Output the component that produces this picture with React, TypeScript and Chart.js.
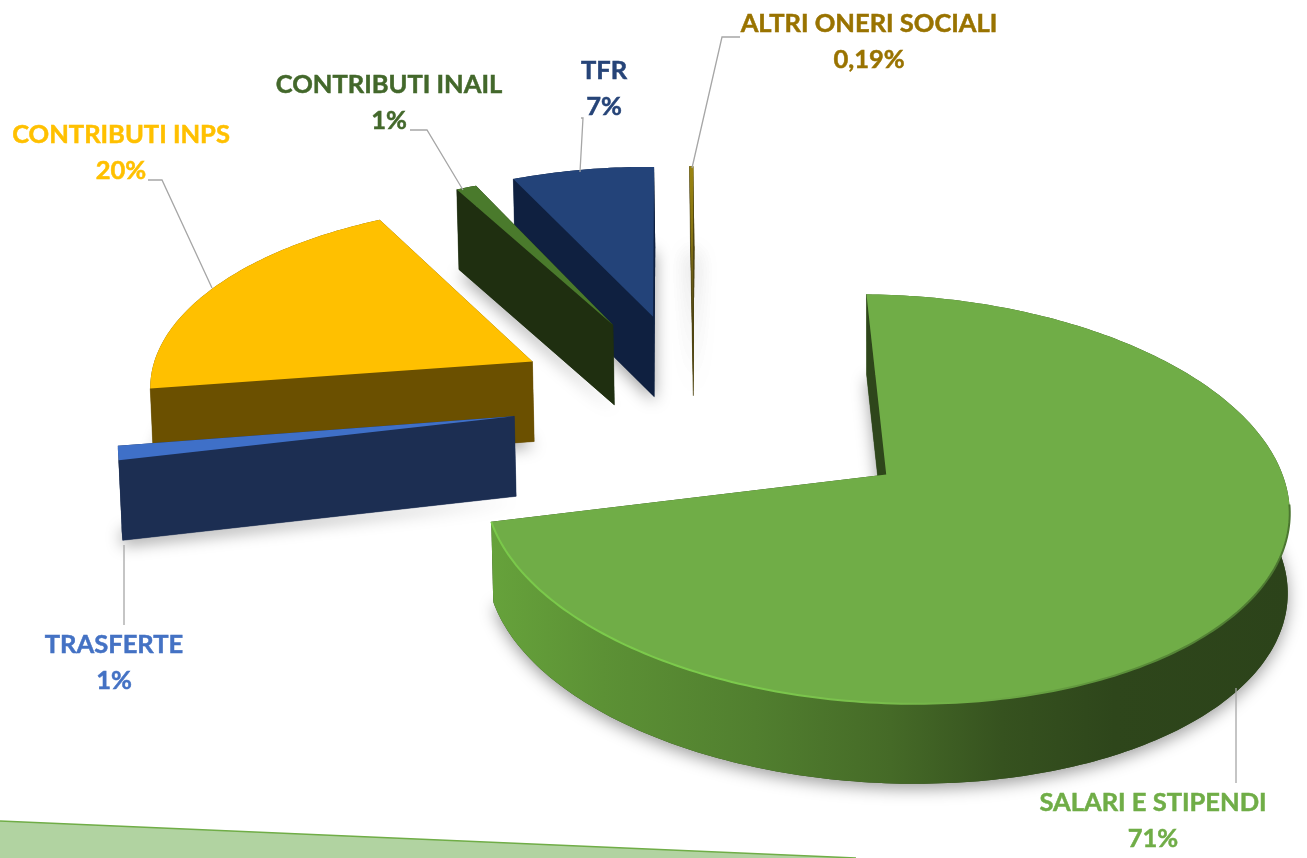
import React, { useEffect, useRef } from "react";
import { Chart, registerables } from "chart.js";

Chart.register(...registerables);

const categories = ["SALARI E STIPENDI", "TRASFERTE", "CONTRIBUTI INPS", "CONTRIBUTI INAIL", "TFR", "ALTRI ONERI SOCIALI"];
const shares = [71.4, 1.2, 19.6, 1, 7, 0.19];
const shareLabels = ["71%", "1%", "20%", "1%", "7%", "0,19%"];
const topColors = ["#70ad47", "#3f70c8", "#ffc000", "#4a7a2c", "#234379", "#9a8410"];
const labelColors = ["#70ad47", "#4472c4", "#ffc000", "#43682b", "#264478", "#997300"];
const wallColors = ["#2e461b", "#1c2e52", "#6b5000", "#1f2f10", "#0f2040", "#4f4410"];
const explode = [123, 94, 95, 95, 97, 96];

const BASE_RADIUS = 200;
const VIEW = { ox: 885, oy: 468, rx: 398, ry: 200, k: 0.12, cx: -0.495, cy: -0.33, depth: 80, skew: 0.005, shear: 0.025, lean: 0.04 };

const LABEL_BOXES = [
  { x: 1153, y: 803 },
  { x: 114, y: 645 },
  { x: 121, y: 135 },
  { x: 389, y: 85 },
  { x: 604, y: 71 },
  { x: 869, y: 24 },
];
const LEADERS = [
  [[1236, 688], [1236, 783]],
  [[124, 545], [124, 625]],
  [[148, 180], [162, 180], [212, 288]],
  [[410, 130], [427, 130], [463, 190]],
  [[581, 118], [583, 118], [580, 172]],
  [[740, 37], [722, 37], [692, 168]],
];

function project(X: number, Y: number): [number, number] {
  const w = 1 - VIEW.k * Y;
  const dx = (VIEW.rx * X) / w;
  const dy = (VIEW.ry * Y) / w;
  return [VIEW.ox + dx + dy * VIEW.lean, VIEW.oy + dy + dx * VIEW.shear];
}
function lower(p: [number, number]): [number, number] {
  return [p[0] + (VIEW.ox - p[0]) * VIEW.skew, p[1] + VIEW.depth];
}
function poly(ctx: CanvasRenderingContext2D, pts: [number, number][]) {
  ctx.beginPath();
  pts.forEach((p, i) => (i ? ctx.lineTo(p[0], p[1]) : ctx.moveTo(p[0], p[1])));
  ctx.closePath();
}

const pie3d = {
  id: "pie3d",
  beforeDraw(chart: any) {
    const ctx: CanvasRenderingContext2D = chart.ctx;
    ctx.save();
    poly(ctx, [[0, 821], [856, 858], [0, 858]]);
    ctx.fillStyle = "#b1d3a1";
    ctx.fill();
    ctx.strokeStyle = "#70ad47";
    ctx.lineWidth = 1.5;
    ctx.beginPath();
    ctx.moveTo(0, 821);
    ctx.lineTo(856, 858);
    ctx.stroke();
    ctx.restore();
  },
  beforeDatasetDraw(chart: any) {
    const ctx: CanvasRenderingContext2D = chart.ctx;
    const arcs = chart.getDatasetMeta(0).data;
    for (let i = arcs.length - 1; i >= 0; i--) {
      const a = arcs[i];
      const R = a.outerRadius;
      const mid = (a.startAngle + a.endAngle) / 2;
      const e = a.options.offset / R;
      const cx = VIEW.cx + e * Math.cos(mid);
      const cy = VIEW.cy + e * Math.sin(mid);
      const apex = project(cx, cy);
      const rim: [number, number][] = [];
      const n = Math.max(2, Math.ceil(((a.endAngle - a.startAngle) * 180) / Math.PI));
      for (let j = 0; j <= n; j++) {
        const t = a.startAngle + ((a.endAngle - a.startAngle) * j) / n;
        rim.push(project(cx + Math.cos(t), cy + Math.sin(t)));
      }
      const rimLow = rim.map(lower);
      const first = rim[0];
      const last = rim[rim.length - 1];
      const apexLow = lower(apex);
      ctx.save();

      // soft ground shadow (the thinnest slice gets a wider, paler one)
      const thin = i === 5;
      const passes = thin ? 2 : 1;
      for (let p = 0; p < passes; p++) {
        ctx.save();
        ctx.shadowColor = thin ? "rgba(0,0,0,0.28)" : "rgba(0,0,0,0.38)";
        ctx.shadowBlur = thin ? 22 : 16;
        ctx.shadowOffsetY = 5;
        ctx.fillStyle = wallColors[i];
        poly(ctx, [apexLow, ...rimLow]);
        ctx.fill();
        ctx.restore();
      }

      // far cut wall
      ctx.fillStyle = wallColors[i];
      ctx.strokeStyle = wallColors[i];
      ctx.lineWidth = 0.5;
      poly(ctx, [apex, last, lower(last), apexLow]);
      ctx.fill();

      // outer wall
      const minX = Math.min(...rim.map((p) => p[0]));
      const maxX = Math.max(...rim.map((p) => p[0]));
      let wall: any = wallColors[i];
      if (i === 0) {
        wall = ctx.createLinearGradient(minX, 0, maxX, 0);
        wall.addColorStop(0, "#66a23b");
        wall.addColorStop(0.14, "#5c9135");
        wall.addColorStop(0.33, "#517f2f");
        wall.addColorStop(0.5, "#456a27");
        wall.addColorStop(0.64, "#36521f");
        wall.addColorStop(0.78, "#2e461b");
        wall.addColorStop(1, "#2c431a");
      }
      ctx.fillStyle = wall;
      poly(ctx, [...rim, ...rimLow.slice().reverse()]);
      ctx.fill();

      // near cut wall
      ctx.fillStyle = wallColors[i];
      poly(ctx, [apex, first, lower(first), apexLow]);
      ctx.fill();
      ctx.stroke();

      // top face
      ctx.fillStyle = a.options.backgroundColor;
      if (i === 5) {
        const g = ctx.createLinearGradient(0, first[1], 0, apexLow[1]);
        g.addColorStop(0, "#9a8410");
        g.addColorStop(0.45, "#7d6c14");
        g.addColorStop(1, "#4a4a3a");
        ctx.fillStyle = g;
      }
      poly(ctx, [apex, ...rim]);
      ctx.fill();

      // rim highlight
      if (i === 0) {
        const s = ctx.createLinearGradient(minX, 0, maxX, 0);
        s.addColorStop(0, "#7ac94a");
        s.addColorStop(0.3, "#7ccb4c");
        s.addColorStop(0.5, "#79bd4c");
        s.addColorStop(0.6, "#70ad47");
        s.addColorStop(0.8, "#5a8d39");
        s.addColorStop(1, "#4b7530");
        ctx.strokeStyle = s;
        ctx.lineWidth = 2;
        ctx.beginPath();
        const from = Math.floor(rim.length * 0.38);
        rim.slice(from).forEach((p, j) => (j ? ctx.lineTo(p[0], p[1]) : ctx.moveTo(p[0], p[1])));
        ctx.stroke();
      }
      ctx.restore();
    }
    return false;
  },
  afterDatasetsDraw(chart: any) {
    const ctx: CanvasRenderingContext2D = chart.ctx;
    ctx.save();
    ctx.strokeStyle = "#a6a6a6";
    ctx.lineWidth = 1.3;
    LEADERS.forEach((pts) => {
      ctx.beginPath();
      pts.forEach((p, i) => (i ? ctx.lineTo(p[0], p[1]) : ctx.moveTo(p[0], p[1])));
      ctx.stroke();
    });
    ctx.textAlign = "center";
    ctx.textBaseline = "middle";
    ctx.font = 'bold 25.5px Lato, "Open Sans", sans-serif';
    ctx.lineWidth = 0.5;
    categories.forEach((name, i) => {
      ctx.fillStyle = labelColors[i];
      ctx.strokeStyle = labelColors[i];
      [name, shareLabels[i]].forEach((t, j) => {
        ctx.fillText(t, LABEL_BOXES[i].x, LABEL_BOXES[i].y + j * 36);
        ctx.strokeText(t, LABEL_BOXES[i].x, LABEL_BOXES[i].y + j * 36);
      });
    });
    ctx.restore();
  },
};

export default function App() {
  const ref = useRef<HTMLCanvasElement>(null);
  useEffect(() => {
    const chart = new Chart(ref.current as HTMLCanvasElement, {
      type: "pie",
      data: {
        labels: categories,
        datasets: [
          {
            data: shares,
            backgroundColor: topColors,
            borderWidth: 0,
            offset: explode,
            radius: BASE_RADIUS,
          } as any,
        ],
      },
      options: {
        animation: false,
        responsive: false,
        rotation: -2,
        layout: { padding: 0 },
        plugins: { legend: { display: false }, tooltip: { enabled: false } },
      },
      plugins: [pie3d as any],
    });
    return () => chart.destroy();
  }, []);
  return (
    <canvas
      ref={ref}
      width={1307}
      height={858}
      style={{ position: "fixed", left: 0, top: 0, display: "block", background: "#fff" }}
    />
  );
}
